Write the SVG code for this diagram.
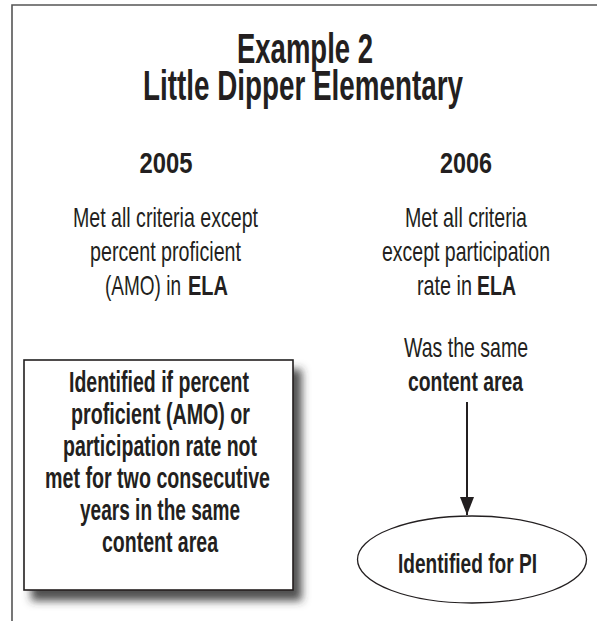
<svg xmlns="http://www.w3.org/2000/svg" width="597" height="621" viewBox="0 0 597 621">
  <defs>
    <style>
      text { font-family: "Liberation Sans", Arial, sans-serif; fill: #231f20; text-anchor: middle; }
      .title { font-size: 42px; font-weight: bold; }
      .year { font-size: 29px; font-weight: bold; }
      .body { font-size: 28px; }
      .bold { font-weight: bold; }
      .lbl { font-size: 29px; font-weight: bold; }
      .st { text-anchor: start; }
      .frame { fill: none; stroke: #555; stroke-width: 1.6; }
      .edge { stroke: #231f20; stroke-width: 2; fill: none; }
    </style>
    <filter id="shadow" x="-10%" y="-10%" width="130%" height="130%">
      <feDropShadow dx="8" dy="10" stdDeviation="4" flood-color="#333" flood-opacity="0.85"/>
    </filter>
    <marker id="arrow" viewBox="0 0 18 14" refX="18" refY="7" markerWidth="18" markerHeight="14" markerUnits="userSpaceOnUse" orient="auto">
      <path d="M0,0 L18,7 L0,14 Z" fill="#231f20"/>
    </marker>
  </defs>

  <!-- open frame: top and left edges only -->
  <path class="frame" d="M12,621 L12,5 L597,5"/>

  <g id="title">
    <text class="title" x="305" y="63" textLength="136" lengthAdjust="spacingAndGlyphs">Example 2</text>
    <text class="title" x="303" y="100" textLength="320" lengthAdjust="spacingAndGlyphs">Little Dipper Elementary</text>
  </g>

  <g id="year2005">
    <text class="year" x="166" y="173" textLength="53" lengthAdjust="spacingAndGlyphs">2005</text>
    <text class="body" x="165.5" y="227" textLength="185" lengthAdjust="spacingAndGlyphs">Met all criteria except</text>
    <text class="body" x="165.5" y="261" textLength="151" lengthAdjust="spacingAndGlyphs">percent proficient</text>
    <text class="body st" x="105" y="295" textLength="76" lengthAdjust="spacingAndGlyphs">(AMO) in</text>
    <text class="body bold st" x="188" y="295" textLength="40" lengthAdjust="spacingAndGlyphs">ELA</text>
  </g>

  <g id="year2006">
    <text class="year" x="466" y="173" textLength="52" lengthAdjust="spacingAndGlyphs">2006</text>
    <text class="body" x="466" y="227" textLength="122" lengthAdjust="spacingAndGlyphs">Met all criteria</text>
    <text class="body" x="466" y="261" textLength="168" lengthAdjust="spacingAndGlyphs">except participation</text>
    <text class="body st" x="417" y="295" textLength="55" lengthAdjust="spacingAndGlyphs">rate in</text>
    <text class="body bold st" x="477" y="295" textLength="39" lengthAdjust="spacingAndGlyphs">ELA</text>
  </g>

  <g id="same-area">
    <text class="body" x="466" y="357" textLength="124" lengthAdjust="spacingAndGlyphs">Was the same</text>
    <text class="body bold" x="465.5" y="391" textLength="115" lengthAdjust="spacingAndGlyphs">content area</text>
  </g>

  <g id="rule-box">
    <rect x="24" y="360" width="269" height="230" fill="#fff" stroke="#231f20" stroke-width="1.6" filter="url(#shadow)"/>
    <text class="lbl" x="159" y="392" textLength="180" lengthAdjust="spacingAndGlyphs">Identified if percent</text>
    <text class="lbl" x="160.5" y="424" textLength="179" lengthAdjust="spacingAndGlyphs">proficient (AMO) or</text>
    <text class="lbl" x="160" y="456" textLength="194" lengthAdjust="spacingAndGlyphs">participation rate not</text>
    <text class="lbl" x="157.5" y="488" textLength="225" lengthAdjust="spacingAndGlyphs">met for two consecutive</text>
    <text class="lbl" x="160" y="520" textLength="160" lengthAdjust="spacingAndGlyphs">years in the same</text>
    <text class="lbl" x="160" y="552" textLength="116" lengthAdjust="spacingAndGlyphs">content area</text>
  </g>

  <g id="identified-pi">
    <ellipse cx="472" cy="559.5" rx="114.5" ry="43.5" fill="#fff" stroke="#231f20" stroke-width="1.3"/>
    <text class="body bold" x="467.5" y="573" textLength="139" lengthAdjust="spacingAndGlyphs">Identified for PI</text>
  </g>

  <g id="connectors">
    <line class="edge" x1="467" y1="402" x2="467" y2="515" marker-end="url(#arrow)"/>
  </g>
</svg>
